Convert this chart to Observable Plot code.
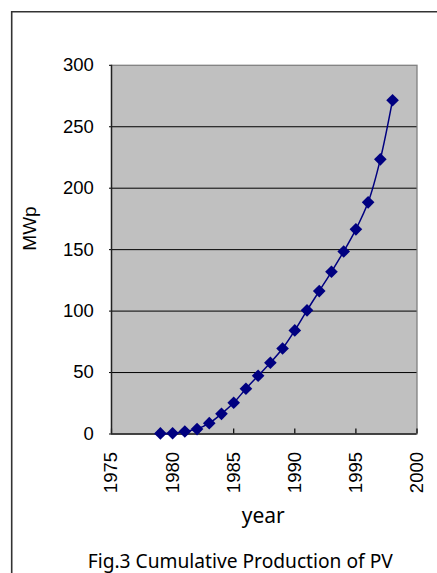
<!DOCTYPE html>
<html>
<head>
<meta charset="utf-8">
<script src="https://cdn.jsdelivr.net/npm/d3@7"></script>
<script src="https://cdn.jsdelivr.net/npm/@observablehq/plot@0.6"></script>
<style>
  html, body { margin: 0; padding: 0; background: #fff; }
  #chart svg { display: block; }
</style>
</head>
<body>
<div id="chart"></div>
<script>
// Data
const years = [1979, 1980, 1981, 1982, 1983, 1984, 1985, 1986, 1987, 1988,
               1989, 1990, 1991, 1992, 1993, 1994, 1995, 1996, 1997, 1998];
const mwp = [0.5, 0.6, 2, 4, 8.8, 16.4, 25.4, 36.8, 47.4, 58,
             69.6, 84.3, 100.6, 116.3, 132, 148.5, 166.5, 188.5, 223.5, 271.6];
const xTicks = [1975, 1980, 1985, 1990, 1995, 2000];
const yTicks = [0, 50, 100, 150, 200, 250, 300];
const yTitle = "MWp";
const xTitle = "year";
const caption = "Fig.3 Cumulative Production of PV";

const data = years.map((y, i) => ({year: y, value: mwp[i]}));
const gridValues = yTicks.filter(d => d > 0 && d < 300);

const W = 437, H = 573;
const mL = 111, mR = 20.5, mT = 64.8, mB = 139.5;
const frameH = H - mT - mB;

const chart = Plot.plot({
  width: W,
  height: H,
  marginLeft: mL,
  marginRight: mR,
  marginTop: mT,
  marginBottom: mB,
  style: {fontFamily: "'Liberation Sans', Arial, sans-serif", background: "transparent", color: "#000"},
  x: {domain: [1975, 2000], ticks: xTicks},
  y: {domain: [0, 300], ticks: yTicks},
  marks: [
    Plot.frame({fill: "#c0c0c0"}),
    Plot.frame({stroke: "#808080", strokeWidth: 1.3}),
    Plot.ruleY(gridValues, {stroke: "#000", strokeWidth: 1}),
    Plot.tickX(xTicks, {x: d => d, insetTop: frameH - 5, stroke: "#000", strokeWidth: 1.2}),
    Plot.ruleX([1975], {stroke: "#222", strokeWidth: 1.4}),
    Plot.ruleY([0], {stroke: "#222", strokeWidth: 1.4}),
    Plot.axisY({ticks: yTicks, tickSize: 2, tickPadding: 15.7, fontSize: 18.5, label: null}),
    Plot.axisX({ticks: xTicks, tickSize: 0, tickPadding: 18, tickRotate: -90, fontSize: 18.5, label: null, tickFormat: d => String(d)}),
    Plot.line(data, {x: "year", y: "value", stroke: "#000080", strokeWidth: 1.5, curve: "catmull-rom"}),
    Plot.dot(data, {x: "year", y: "value", symbol: "diamond2", r: 5.7, fill: "#000080", stroke: "none"}),
    Plot.text([yTitle], {text: d => d, frameAnchor: "left", lineAnchor: "middle", rotate: -90, dx: -82, dy: 1,
      fontSize: 19, fill: "#000"}),
    Plot.text([xTitle], {text: d => d, frameAnchor: "bottom", lineAnchor: "middle", dy: 81.8, dx: -1,
      fontSize: 21, fontFamily: "'Noto Sans', sans-serif", fill: "#000"}),
    Plot.text([caption], {text: d => d, frameAnchor: "bottom", lineAnchor: "middle", dy: 127.5, dx: -24,
      fontSize: 19.2, fontFamily: "'Noto Sans', sans-serif", fill: "#000"})
  ]
});

// outer figure border (top and left edges visible in the reference)
d3.select(chart).append("path")
  .attr("d", `M11.7,${H + 5}V11.7H${W + 5}`)
  .attr("fill", "none")
  .attr("stroke", "#333")
  .attr("stroke-width", 1.6);

document.getElementById("chart").appendChild(chart);
</script>
</body>
</html>
